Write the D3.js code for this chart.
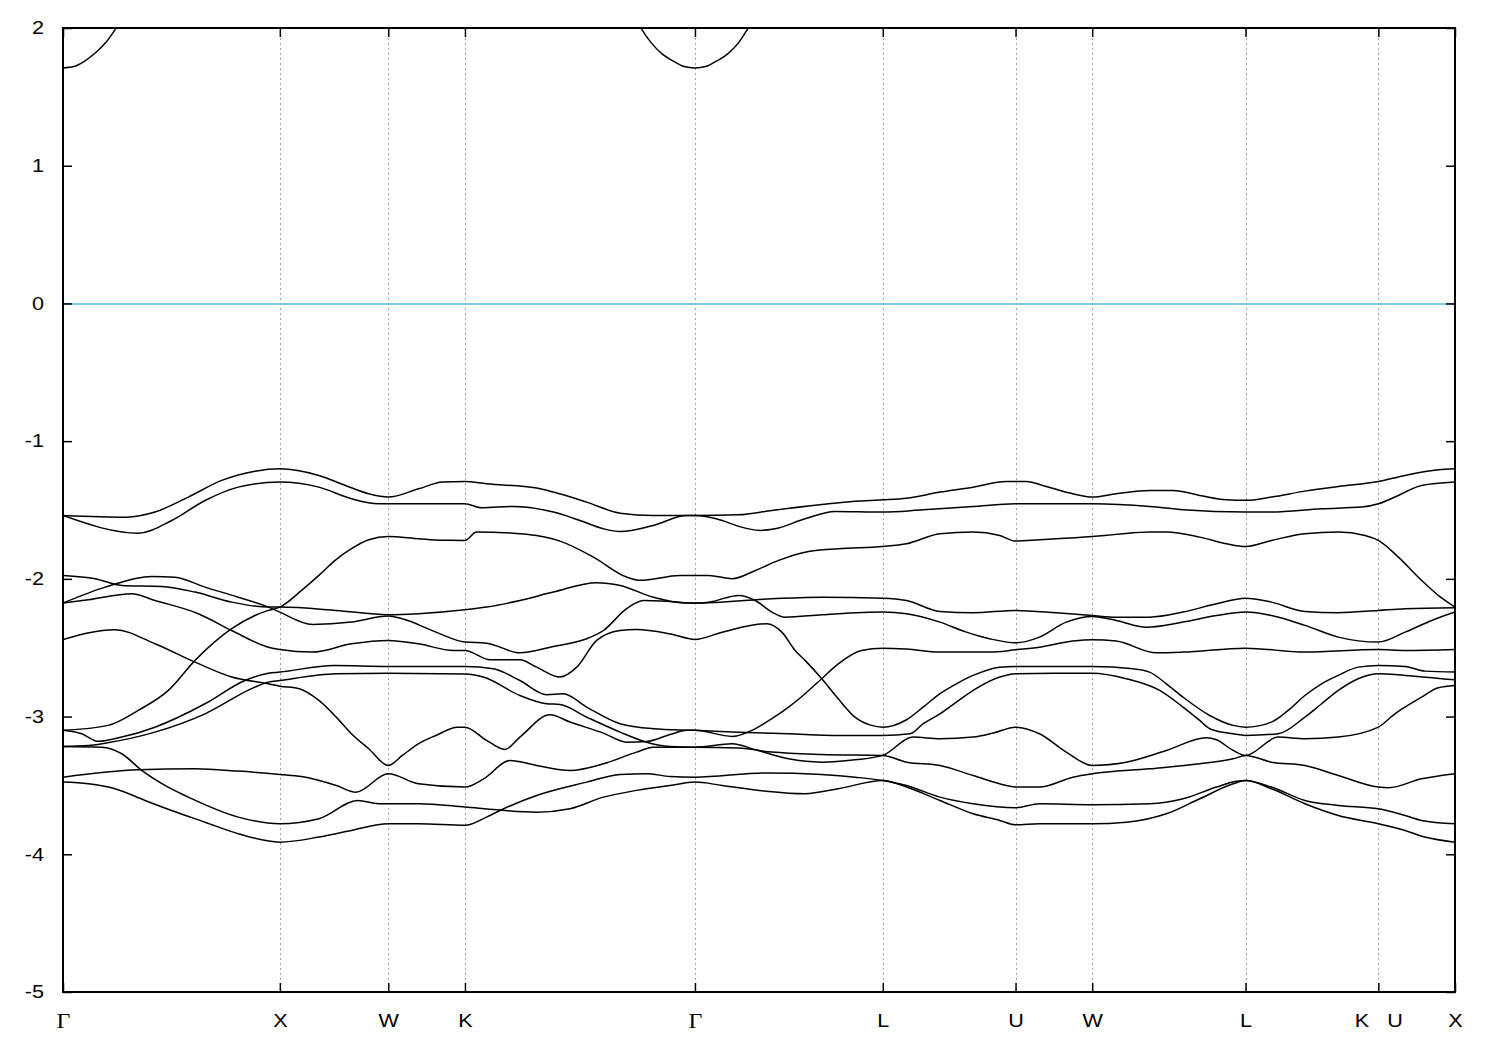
<!DOCTYPE html>
<html><head><meta charset="utf-8">
<script src="https://cdn.jsdelivr.net/npm/d3@7"></script>
<style>body{margin:0;background:#fff}svg{display:block}</style>
</head><body>
<svg id="c" width="1500" height="1050"></svg>
<script>
// high-symmetry points along the path (units of 2π/a)
const kLabels = ["Γ","X","W","K","Γ","L","U","W","L","K   U","X"];
const kTicks  = [0,1,1.5,1.8536,2.9142,3.7803,4.3926,4.7462,5.4533,6.0657,6.4192];
const yTicks  = [-5,-4,-3,-2,-1,0,1,2];
const fermiLevel = 0;

// conduction band pieces (eV)
const cb1 = [[0,1.71],[0.05,1.72],[0.1,1.76],[0.15,1.82],[0.2,1.9],[0.25,2.01],[0.3,2.12]];
const cb2 = [[2.62,2.15],[2.665,2.0],[2.714,1.89],[2.764,1.81],[2.814,1.76],[2.864,1.72],[2.9142,1.71],
             [2.964,1.72],[3.014,1.76],[3.064,1.81],[3.114,1.89],[3.164,2.01],[3.2,2.1]];

// valence bands [k, E]
const bandA = [[0,-1.54],[0.294,-1.552],[0.424,-1.515],[0.578,-1.406],[0.732,-1.285],[0.885,-1.218],[1,-1.20],
 [1.18,-1.249],[1.30,-1.32],[1.41,-1.382],[1.5,-1.406],[1.64,-1.346],[1.75,-1.297],[1.8536,-1.293],
 [1.953,-1.31],[2.184,-1.341],[2.261,-1.37],[2.415,-1.443],[2.569,-1.523],[2.722,-1.54],[2.9142,-1.54],
 [3.116,-1.535],[3.269,-1.503],[3.499,-1.46],[3.652,-1.436],[3.7803,-1.426],
 [3.89,-1.414],[4.044,-1.37],[4.197,-1.334],[4.35,-1.293],[4.3926,-1.293],
 [4.442,-1.293],[4.534,-1.329],[4.657,-1.382],[4.7462,-1.406],
 [4.857,-1.382],[5.011,-1.358],[5.119,-1.358],[5.242,-1.394],[5.365,-1.426],[5.4533,-1.43],
 [5.573,-1.406],[5.727,-1.363],[5.881,-1.329],[6.0657,-1.293],[6.189,-1.249],[6.342,-1.208],[6.4192,-1.20]];
const bandB = [[0,-1.54],[0.347,-1.668],[0.501,-1.576],[0.655,-1.431],[0.808,-1.334],[1,-1.297],
 [1.18,-1.334],[1.33,-1.418],[1.455,-1.455],[1.5,-1.455],[1.7,-1.455],[1.8536,-1.455],
 [1.93,-1.484],[2.08,-1.474],[2.261,-1.515],[2.384,-1.576],[2.492,-1.636],[2.569,-1.656],[2.722,-1.612],[2.876,-1.54],[2.9142,-1.54],
 [3.04,-1.576],[3.116,-1.619],[3.216,-1.648],[3.284,-1.636],[3.422,-1.564],[3.56,-1.51],[3.7803,-1.515],
 [3.967,-1.498],[4.197,-1.474],[4.3926,-1.455],[4.57,-1.455],[4.7462,-1.455],
 [5.011,-1.474],[5.165,-1.498],[5.4533,-1.515],
 [5.573,-1.515],[5.804,-1.491],[5.988,-1.479],[6.0657,-1.455],[6.142,-1.406],[6.265,-1.322],[6.4192,-1.297]];
const bandF = [[0,-3.10],[0.208,-3.064],[0.347,-2.955],[0.486,-2.81],[0.609,-2.592],[0.778,-2.362],[0.885,-2.266],[0.947,-2.229],[1,-2.205],
 [1.10,-2.084],[1.18,-1.975],[1.255,-1.866],[1.33,-1.781],[1.41,-1.716],[1.5,-1.692],[1.64,-1.709],[1.75,-1.72],[1.8536,-1.721],
 [1.907,-1.66],[2.076,-1.668],[2.184,-1.685],[2.292,-1.726],[2.446,-1.842],[2.599,-1.987],[2.661,-2.011],[2.845,-1.975],[2.9142,-1.975],
 [2.978,-1.975],[3.086,-1.999],[3.193,-1.939],[3.30,-1.866],[3.422,-1.806],[3.575,-1.781],[3.7803,-1.765],
 [3.89,-1.745],[4.044,-1.672],[4.197,-1.66],[4.32,-1.685],[4.3926,-1.726],[4.503,-1.716],[4.7462,-1.692],
 [4.857,-1.677],[5.011,-1.66],[5.088,-1.66],[5.242,-1.697],[5.365,-1.745],[5.4533,-1.765],
 [5.573,-1.721],[5.727,-1.672],[5.881,-1.66],[6.004,-1.685],[6.0657,-1.721],[6.158,-1.842],[6.265,-2.011],[6.342,-2.12],[6.4192,-2.205]];
const bandC = [[0,-1.975],[0.148,-1.999],[0.271,-2.048],[0.455,-2.055],[0.609,-2.096],[0.778,-2.169],[0.947,-2.205],[1,-2.205],
 [1.26,-2.229],[1.5,-2.261],[1.64,-2.253],[1.8536,-2.225],
 [1.953,-2.205],[2.107,-2.157],[2.261,-2.096],[2.461,-2.028],[2.569,-2.048],[2.722,-2.133],[2.876,-2.176],[2.9142,-2.176],
 [2.978,-2.169],[3.116,-2.12],[3.193,-2.157],[3.269,-2.241],[3.33,-2.278],[3.499,-2.261],[3.7803,-2.241],
 [3.89,-2.253],[4.044,-2.314],[4.166,-2.387],[4.273,-2.435],[4.3926,-2.464],[4.503,-2.423],[4.626,-2.314],[4.7462,-2.273],
 [4.857,-2.302],[4.996,-2.351],[5.165,-2.314],[5.319,-2.266],[5.4533,-2.241],
 [5.573,-2.266],[5.727,-2.338],[5.881,-2.423],[6.0657,-2.459],[6.189,-2.387],[6.312,-2.302],[6.4192,-2.241]];
const bandD = [[0,-2.176],[0.194,-2.06],[0.409,-1.982],[0.516,-1.988],[0.655,-2.06],[0.808,-2.133],[0.947,-2.205],[1,-2.242],
 [1.15,-2.331],[1.33,-2.314],[1.5,-2.27],[1.565,-2.29],[1.72,-2.387],[1.8536,-2.459],
 [1.953,-2.467],[2.107,-2.537],[2.261,-2.491],[2.415,-2.435],[2.492,-2.375],[2.599,-2.217],[2.676,-2.157],[2.799,-2.164],[2.9142,-2.176],
 [3.269,-2.145],[3.499,-2.133],[3.7803,-2.14],
 [3.89,-2.157],[4.044,-2.237],[4.197,-2.246],[4.3926,-2.229],[4.58,-2.246],[4.7462,-2.266],
 [4.857,-2.278],[5.011,-2.278],[5.165,-2.241],[5.319,-2.181],[5.4533,-2.14],
 [5.573,-2.169],[5.727,-2.237],[5.881,-2.246],[6.0657,-2.229],[6.189,-2.217],[6.4192,-2.21]];
const bandE = [[0,-2.176],[0.117,-2.152],[0.317,-2.108],[0.424,-2.157],[0.624,-2.253],[0.778,-2.375],[0.947,-2.496],[1,-2.513],
 [1.15,-2.532],[1.33,-2.472],[1.5,-2.447],[1.64,-2.472],[1.80,-2.52],[1.8536,-2.52],
 [1.97,-2.587],[2.107,-2.587],[2.184,-2.641],[2.292,-2.713],[2.369,-2.641],[2.461,-2.447],[2.569,-2.375],[2.645,-2.367],[2.799,-2.399],[2.9142,-2.44],
 [3.04,-2.387],[3.246,-2.326],[3.315,-2.387],[3.376,-2.52],[3.422,-2.592],[3.499,-2.725],[3.575,-2.871],[3.652,-3.004],[3.728,-3.064],[3.7803,-3.077],
 [3.89,-3.023],[3.967,-2.931],[4.044,-2.834],[4.12,-2.762],[4.197,-2.701],[4.32,-2.641],[4.3926,-2.636],[4.57,-2.636],[4.7462,-2.636],
 [4.934,-2.653],[5.011,-2.677],[5.088,-2.762],[5.165,-2.859],[5.288,-2.992],[5.396,-3.064],[5.4533,-3.077],
 [5.573,-3.04],[5.65,-2.955],[5.727,-2.847],[5.804,-2.762],[5.881,-2.701],[5.973,-2.641],[6.0657,-2.629],[6.189,-2.636],[6.281,-2.67],[6.4192,-2.677]];
const bandG = [[0,-2.44],[0.24,-2.37],[0.424,-2.471],[0.609,-2.605],[0.778,-2.713],[0.947,-2.762],[1,-2.779],
 [1.09,-2.798],[1.18,-2.883],[1.26,-3.004],[1.33,-3.125],[1.41,-3.234],[1.5,-3.355],
 [1.565,-3.282],[1.64,-3.197],[1.72,-3.137],[1.82,-3.077],[1.8536,-3.077],
 [1.953,-3.173],[2.038,-3.239],[2.107,-3.149],[2.246,-2.987],[2.338,-3.04],[2.492,-3.12],[2.599,-3.186],[2.691,-3.181],[2.799,-3.13],[2.876,-3.10],[2.9142,-3.10],
 [3.086,-3.144],[3.193,-3.088],[3.269,-3.015],[3.346,-2.931],[3.422,-2.834],[3.499,-2.725],[3.575,-2.617],[3.682,-2.52],[3.7803,-2.503],
 [3.89,-2.51],[4.044,-2.532],[4.273,-2.532],[4.3926,-2.515],[4.503,-2.496],[4.657,-2.452],[4.7462,-2.442],
 [4.857,-2.452],[5.042,-2.537],[5.165,-2.532],[5.4533,-2.503],
 [5.727,-2.532],[6.0657,-2.513],[6.189,-2.52],[6.4192,-2.513]];
const bandH = [[0,-3.10],[0.086,-3.125],[0.163,-3.18],[0.271,-3.149],[0.424,-3.077],[0.655,-2.907],[0.839,-2.738],[0.947,-2.685],[1,-2.677],
 [1.25,-2.629],[1.5,-2.636],[1.8536,-2.636],
 [1.984,-2.653],[2.107,-2.738],[2.23,-2.841],[2.307,-2.834],[2.415,-2.931],[2.569,-3.052],[2.722,-3.088],[2.9142,-3.10],
 [3.116,-3.113],[3.346,-3.125],[3.575,-3.137],[3.7803,-3.137],
 [3.906,-3.125],[3.967,-3.052],[4.044,-2.98],[4.12,-2.895],[4.197,-2.81],[4.32,-2.713],[4.3926,-2.689],[4.57,-2.685],[4.7462,-2.685],
 [4.903,-2.725],[5.057,-2.81],[5.165,-2.931],[5.242,-3.028],[5.288,-3.088],[5.396,-3.125],[5.4533,-3.137],
 [5.604,-3.125],[5.727,-3.004],[5.804,-2.907],[5.881,-2.81],[5.973,-2.725],[6.0657,-2.689],[6.189,-2.701],[6.4192,-2.733]];
const bandI = [[0,-3.217],[0.117,-3.21],[0.194,-3.193],[0.424,-3.113],[0.655,-2.98],[0.885,-2.786],[0.947,-2.75],[1,-2.738],
 [1.26,-2.689],[1.5,-2.685],[1.8536,-2.69],
 [1.938,-2.713],[2.107,-2.847],[2.23,-2.907],[2.292,-2.912],[2.415,-3.004],[2.569,-3.113],[2.691,-3.186],[2.799,-3.217],[2.9142,-3.222],
 [3.086,-3.198],[3.193,-3.241],[3.346,-3.307],[3.499,-3.331],[3.652,-3.314],[3.7803,-3.282],
 [3.92,-3.149],[4.044,-3.161],[4.197,-3.149],[4.289,-3.12],[4.3926,-3.077],[4.503,-3.125],[4.626,-3.258],[4.7462,-3.355],
 [4.903,-3.331],[5.088,-3.246],[5.273,-3.154],[5.319,-3.168],[5.396,-3.246],[5.4533,-3.282],
 [5.604,-3.149],[5.727,-3.161],[5.881,-3.149],[6.0657,-3.077],[6.142,-2.98],[6.189,-2.931],[6.265,-2.859],[6.342,-2.791],[6.4192,-2.774]];
const bandM = [[0,-3.44],[0.347,-3.386],[0.609,-3.379],[0.808,-3.396],[1,-3.42],
 [1.10,-3.435],[1.26,-3.50],[1.35,-3.549],[1.5,-3.415],[1.64,-3.488],[1.8536,-3.512],
 [1.94,-3.452],[2.061,-3.319],[2.184,-3.355],[2.338,-3.391],[2.492,-3.343],[2.645,-3.258],[2.722,-3.222],[2.9142,-3.222],
 [3.116,-3.229],[3.269,-3.258],[3.499,-3.275],[3.7803,-3.282],
 [3.89,-3.331],[4.044,-3.355],[4.197,-3.428],[4.35,-3.50],[4.3926,-3.512],[4.503,-3.512],[4.657,-3.44],[4.7462,-3.415],
 [5.011,-3.379],[5.242,-3.343],[5.396,-3.307],[5.4533,-3.282],
 [5.573,-3.331],[5.727,-3.355],[5.881,-3.428],[6.0657,-3.512],[6.112,-3.517],[6.265,-3.452],[6.4192,-3.415]];
const bandJ = [[0,-3.217],[0.178,-3.222],[0.271,-3.27],[0.363,-3.391],[0.47,-3.50],[0.578,-3.585],[0.808,-3.73],[1,-3.778],
 [1.18,-3.742],[1.36,-3.609],[1.455,-3.633],[1.5,-3.633],[1.64,-3.633],[1.8536,-3.657],
 [2.0,-3.677],[2.184,-3.694],[2.338,-3.669],[2.492,-3.585],[2.645,-3.536],[2.799,-3.50],[2.9142,-3.476],
 [3.04,-3.50],[3.238,-3.541],[3.422,-3.56],[3.575,-3.524],[3.7803,-3.464],
 [3.89,-3.512],[4.044,-3.609],[4.197,-3.706],[4.32,-3.754],[4.3926,-3.786],[4.503,-3.778],[4.7462,-3.778],
 [4.903,-3.767],[5.088,-3.706],[5.242,-3.597],[5.396,-3.488],[5.4533,-3.464],
 [5.573,-3.524],[5.727,-3.633],[5.881,-3.718],[6.0657,-3.778],[6.189,-3.827],[6.28,-3.875],[6.4192,-3.912]];
const bandL = [[0,-3.476],[0.117,-3.488],[0.24,-3.524],[0.378,-3.609],[0.501,-3.682],[0.655,-3.767],[0.808,-3.851],[1,-3.912],
 [1.18,-3.875],[1.33,-3.827],[1.5,-3.778],[1.64,-3.778],[1.8536,-3.79],
 [1.953,-3.73],[2.015,-3.682],[2.184,-3.573],[2.415,-3.476],[2.569,-3.42],[2.691,-3.415],[2.799,-3.435],[2.9142,-3.44],
 [3.238,-3.41],[3.499,-3.42],[3.652,-3.44],[3.7803,-3.464],
 [3.89,-3.50],[4.044,-3.585],[4.197,-3.633],[4.3926,-3.662],[4.503,-3.633],[4.7462,-3.64],
 [5.011,-3.633],[5.165,-3.597],[5.319,-3.512],[5.411,-3.469],[5.4533,-3.464],
 [5.573,-3.512],[5.727,-3.609],[5.881,-3.645],[6.0657,-3.669],[6.189,-3.718],[6.265,-3.754],[6.4192,-3.778]];

const bands = [cb1, cb2, bandA, bandB, bandF, bandC, bandD, bandE, bandG, bandH, bandI, bandM, bandJ, bandL];

const svg = d3.select("#c");
const L = 63, R = 1455, T = 28, B = 992;
const x = d3.scaleLinear().domain([0, 6.4192]).range([L, R]);
const y = d3.scaleLinear().domain([-5, 2]).range([B, T]);
const font = "'Liberation Sans', Arial, sans-serif";
const serif = "'Liberation Serif', 'Times New Roman', serif";
const fs = 18, sx = 1.2;

svg.append("defs").append("clipPath").attr("id","clip")
  .append("rect").attr("x",L).attr("y",T).attr("width",R-L).attr("height",B-T);

// vertical grid at high-symmetry points
svg.append("g").selectAll("line").data(kTicks.slice(1,-1)).join("line")
  .attr("x1",d=>Math.round(x(d))+0.5).attr("x2",d=>Math.round(x(d))+0.5).attr("y1",T).attr("y2",B)
  .attr("stroke","#a0a0a0").attr("stroke-width",1).attr("stroke-dasharray","2,3");

// Fermi level
svg.append("line").attr("x1",L).attr("x2",R).attr("y1",y(fermiLevel)+0.5).attr("y2",y(fermiLevel)+0.5)
  .attr("stroke","#56b4e9").attr("stroke-width",1.5);

const line = d3.line().x(d=>x(d[0])).y(d=>y(d[1])).curve(d3.curveMonotoneX);
svg.append("g").attr("clip-path","url(#clip)").selectAll("path").data(bands).join("path")
  .attr("d",line).attr("fill","none").attr("stroke","#000").attr("stroke-width",1.5);

// axes
const ax = svg.append("g");
const yl = ax.append("g").attr("transform",`translate(${L},0)`)
  .call(d3.axisLeft(y).tickValues(yTicks).tickFormat(d => String(d)).tickSizeInner(-9).tickSizeOuter(0).tickPadding(19));
const yr = ax.append("g").attr("transform",`translate(${R},0)`)
  .call(d3.axisRight(y).tickValues(yTicks).tickFormat("").tickSizeInner(-9).tickSizeOuter(0));
const xt = ax.append("g").attr("transform",`translate(0,${T})`)
  .call(d3.axisTop(x).tickValues(kTicks).tickFormat("").tickSizeInner(-9).tickSizeOuter(0));
const xb = ax.append("g").attr("transform",`translate(0,${B})`)
  .call(d3.axisBottom(x).tickValues(kTicks).tickFormat((d,i)=>kLabels[i]).tickSizeInner(-9).tickSizeOuter(0).tickPadding(22));
ax.selectAll(".domain").remove();
ax.selectAll(".tick line").attr("stroke","#000").attr("stroke-width",1.5);
ax.selectAll(".tick text").attr("font-family",font).attr("font-size",fs).attr("fill","#000");
yl.selectAll(".tick text").attr("x",-19/sx).attr("transform",`scale(${sx},1)`);
xb.selectAll(".tick text").style("white-space","pre").attr("transform",`scale(${sx},1)`)
  .attr("font-family",(d,i)=>kLabels[i]==="Γ" ? serif : font)
  .attr("font-size",(d,i)=>kLabels[i]==="Γ" ? 20 : fs);

// frame
svg.append("rect").attr("x",L).attr("y",T).attr("width",R-L).attr("height",B-T)
  .attr("fill","none").attr("stroke","#000").attr("stroke-width",2);
</script>
</body></html>
